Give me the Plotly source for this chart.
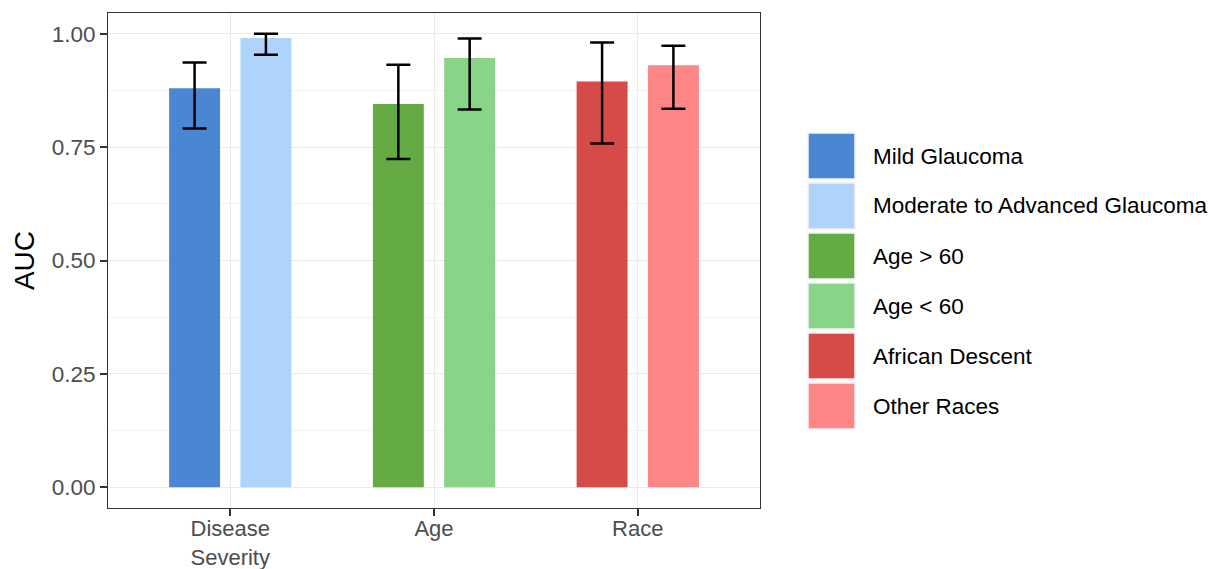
import plotly.graph_objects as go

categories = ["Disease Severity", "Age", "Race"]
tick_labels = ["Disease<br>Severity", "Age", "Race"]

subgroups = ["Mild Glaucoma", "Moderate to Advanced Glaucoma",
             "Age > 60", "Age < 60", "African Descent", "Other Races"]
subgroup_category = ["Disease Severity", "Disease Severity", "Age", "Age", "Race", "Race"]
auc = [0.880, 0.991, 0.845, 0.947, 0.895, 0.931]
ci_low = [0.791, 0.954, 0.724, 0.833, 0.758, 0.835]
ci_high = [0.937, 1.000, 0.932, 0.990, 0.981, 0.974]
colors = ["#4a86d4", "#aed4fb", "#65ab44", "#89d486", "#d64a47", "#fe8687"]

FONT = "Liberation Sans, Arial, Helvetica, sans-serif"
OFF = 8  # page body margin
W, H = 1218 - 2 * OFF + 6, 569 - OFF
ML, MR, MT, MB = 100, W - 752, 5, H - 500

# dodge: first subgroup of a category on the left, second on the right
bar_width = 0.25
dodge = 0.35

fig = go.Figure()
seen = {}
for name, cat, v, lo, hi, col in zip(subgroups, subgroup_category, auc, ci_low, ci_high, colors):
    idx = seen.get(cat, 0)
    seen[cat] = idx + 1
    center = -dodge / 2 if idx == 0 else dodge / 2
    fig.add_trace(go.Bar(
        x=[cat], y=[v], name=name,
        width=bar_width, offset=center - bar_width / 2,
        marker=dict(color=col, line=dict(width=0)),
        error_y=dict(type="data", symmetric=False,
                     array=[hi - v], arrayminus=[v - lo],
                     color="black", thickness=2.5, width=12),
        showlegend=False,
    ))

# ggplot-style legend keys, positioned in screen pixels converted to paper units
pw = W - ML - MR
ph = H - MT - MB


def px_x(x):
    return (x - OFF - ML) / pw


def px_y(y):
    return (H - MB - (y - OFF)) / ph


key_left, key_right, text_left = 808, 855, 871
first_top, key_h, pitch = 133, 46, 50
for i, (name, col) in enumerate(zip(subgroups, colors)):
    t = first_top + i * pitch
    b = t + key_h
    fig.add_shape(type="rect", xref="paper", yref="paper",
                  x0=px_x(key_left), x1=px_x(key_right), y0=px_y(b), y1=px_y(t),
                  fillcolor=col, line=dict(color="#f2f2f2", width=1.5))
    fig.add_annotation(xref="paper", yref="paper", x=px_x(text_left), y=px_y((t + b) / 2),
                       text=name, showarrow=False, xanchor="left", yanchor="middle",
                       font=dict(family=FONT, size=22.5, color="black"))

fig.update_layout(
    width=W, height=H,
    margin=dict(l=ML, r=MR, t=MT, b=MB, autoexpand=False),
    paper_bgcolor="white", plot_bgcolor="white",
    barmode="overlay",
    font=dict(family=FONT),
    showlegend=False,
)
fig.update_xaxes(
    categoryorder="array", categoryarray=categories,
    tickmode="array", tickvals=categories, ticktext=tick_labels,
    range=[-0.6, 2.6],
    showgrid=True, gridcolor="#ebebeb", gridwidth=1.2,
    showline=True, mirror=True, linecolor="#333333", linewidth=1,
    ticks="outside", ticklen=7, tickcolor="#333333", tickwidth=1.8,
    tickfont=dict(size=22, color="#4d4d4d"),
    ticklabelstandoff=-6,
    zeroline=False,
)
fig.update_yaxes(
    range=[-0.046, 1.046],
    tickmode="array", tickvals=[0, 0.25, 0.5, 0.75, 1.0],
    ticktext=["0.00", "0.25", "0.50", "0.75", "1.00"],
    showgrid=True, gridcolor="#ebebeb", gridwidth=1.2,
    minor=dict(tickmode="array", tickvals=[0.125, 0.375, 0.625, 0.875],
               showgrid=True, gridcolor="#f2f2f2", gridwidth=0.8, ticks=""),
    showline=True, mirror=True, linecolor="#333333", linewidth=1,
    ticks="outside", ticklen=7, tickcolor="#333333", tickwidth=1.8,
    tickfont=dict(size=22.5, color="#4d4d4d"),
    title=dict(text="AUC", font=dict(size=28, color="black"), standoff=8),
    zeroline=False,
)

fig.write_html("out.html")
